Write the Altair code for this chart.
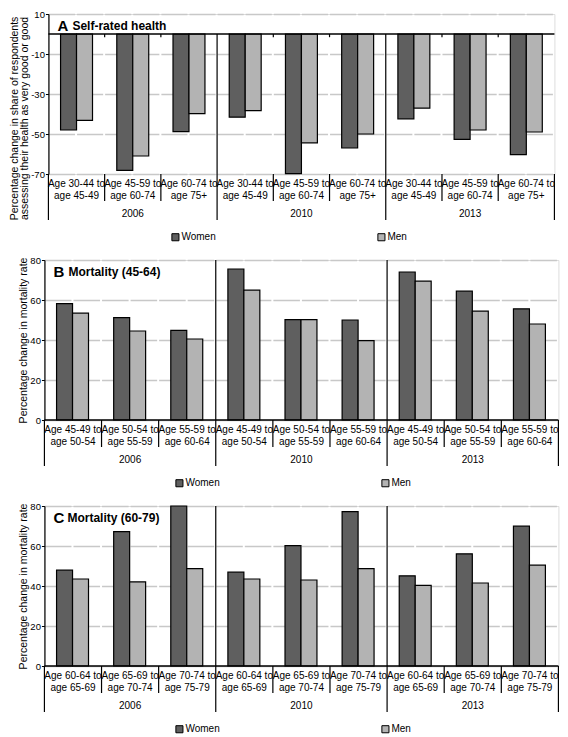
import altair as alt
import pandas as pd

FONT = "Liberation Sans"
YEARS = ["2006", "2010", "2013"]
SEXES = ["Women", "Men"]
COLORS = ["#5f5f5f", "#b3b3b3"]

# Panel A - self-rated health
A_CAT1 = ["Age 30-44 to", "Age 45-59 to", "Age 60-74 to"]
A_CAT2 = ["age 45-49", "age 60-74", "age 75+"]
A_WOMEN = [-48.0, -68.2, -48.8, -41.6, -69.8, -57.0, -42.4, -52.7, -60.3]
A_MEN = [-43.2, -61.0, -39.8, -38.3, -54.4, -50.0, -37.1, -48.0, -49.0]

# Panel B - mortality 45-64
B_CAT1 = ["Age 45-49 to", "Age 50-54 to", "Age 55-59 to"]
B_CAT2 = ["age 50-54", "age 55-59", "age 60-64"]
B_WOMEN = [58.2, 51.2, 44.8, 75.5, 50.2, 50.0, 74.0, 64.4, 55.6]
B_MEN = [53.4, 44.5, 40.5, 64.9, 50.2, 39.7, 69.4, 54.4, 48.0]

# Panel C - mortality 60-79
C_CAT1 = ["Age 60-64 to", "Age 65-69 to", "Age 70-74 to"]
C_CAT2 = ["age 65-69", "age 70-74", "age 75-79"]
C_WOMEN = [47.9, 67.2, 80.0, 46.9, 60.2, 77.2, 45.1, 56.1, 69.9]
C_MEN = [43.5, 42.1, 48.7, 43.5, 43.0, 48.7, 40.3, 41.5, 50.4]


def make_panel(letter, name, cat1, cat2, women, men, ydom, yticks, ytitle,
               top_val, width, height, legend_x, minor_ticks, title_dx, title_y):
    keys = [f"{y}|{i}" for y in YEARS for i in range(3)]
    rows = []
    for j, k in enumerate(keys):
        rows.append(dict(key=k, sex="Women", value=women[j]))
        rows.append(dict(key=k, sex="Men", value=men[j]))
    df = pd.DataFrame(rows)
    lab = pd.DataFrame(dict(key=keys, l1=cat1 * 3, l2=cat2 * 3))
    yr = pd.DataFrame(dict(key=[keys[1], keys[4], keys[7]], year=YEARS))
    grp = pd.DataFrame(dict(key=[keys[3], keys[6]]))
    catsep = pd.DataFrame(dict(key=[keys[j] for j in (1, 2, 4, 5, 7, 8)]))
    left = pd.DataFrame(dict(key=[keys[0]]))
    right = pd.DataFrame(dict(key=[keys[8]]))

    xs = alt.Scale(domain=keys, paddingInner=0, paddingOuter=0)
    half = width / 18.0
    ys = alt.Scale(domain=ydom, nice=False, zero=False)

    axis_kw = dict(values=yticks, tickCount=len(yticks), title=ytitle, grid=True,
                   gridColor="#c8c8c8", gridDash=[half - 2, 2], gridWidth=1.5,
                   domainColor="black", domainWidth=1.2, tickColor="black", tickSize=3,
                   labelFontSize=9.5, labelColor="black", labelPadding=1,
                   labelExpr="datum.value + ''",
                   titleFontSize=10.5, titleFontWeight="normal", titleColor="black",
                   titlePadding=1, titleFont=FONT, labelFont=FONT, titleLineHeight=10.5)
    if title_y is not None:
        axis_kw["titleY"] = title_y

    bars = alt.Chart(df).mark_bar(stroke="black", strokeWidth=1.2).encode(
        x=alt.X("key:N", scale=xs, axis=None),
        xOffset=alt.XOffset("sex:N", scale=alt.Scale(domain=SEXES, paddingInner=0, paddingOuter=0.76)),
        y=alt.Y("value:Q", scale=ys, axis=alt.Axis(**axis_kw)),
        color=alt.Color("sex:N", scale=alt.Scale(domain=SEXES, range=COLORS),
                        legend=alt.Legend(title=None, orient="none", direction="horizontal",
                                          legendX=legend_x, legendY=height + 58,
                                          symbolType="square", symbolSize=50,
                                          symbolStrokeColor="black", symbolStrokeWidth=1,
                                          labelFontSize=10, labelFont=FONT, labelColor="black",
                                          labelOffset=1, columnPadding=159)),
    )

    zero = alt.Chart(pd.DataFrame(dict(v=[0]))).mark_rule(color="black", strokeWidth=1.3).encode(
        y=alt.Y("v:Q", scale=ys))

    gsep = alt.Chart(grp).mark_rule(color="black", strokeWidth=1.2).encode(
        x=alt.X("key:N", scale=xs, bandPosition=0, axis=None),
        y=alt.datum(top_val), y2=alt.value(height + 46))
    lsep = alt.Chart(left).mark_rule(color="black", strokeWidth=1.2).encode(
        x=alt.X("key:N", scale=xs, bandPosition=0, axis=None),
        y=alt.value(height), y2=alt.value(height + 46))
    rsep = alt.Chart(right).mark_rule(color="black", strokeWidth=1.2).encode(
        x=alt.X("key:N", scale=xs, bandPosition=1, axis=None),
        y=alt.value(height), y2=alt.value(height + 46))
    csep = alt.Chart(catsep).mark_rule(color="black", strokeWidth=1.2).encode(
        x=alt.X("key:N", scale=xs, bandPosition=0, axis=None),
        y=alt.value(height), y2=alt.value(height + 27))

    t1 = alt.Chart(lab).mark_text(fontSize=10, font=FONT, color="black").encode(
        x=alt.X("key:N", scale=xs, axis=None), y=alt.value(height + 10), text="l1:N")
    t2 = alt.Chart(lab).mark_text(fontSize=10, font=FONT, color="black").encode(
        x=alt.X("key:N", scale=xs, axis=None), y=alt.value(height + 22), text="l2:N")
    ty = alt.Chart(yr).mark_text(fontSize=10, font=FONT, color="black").encode(
        x=alt.X("key:N", scale=xs, axis=None), y=alt.value(height + 40), text="year:N")

    tl = alt.Chart(pd.DataFrame(dict(t=[letter]))).mark_text(
        fontSize=15, fontWeight="bold", font=FONT, align="left", color="black").encode(
        x=alt.value(9), y=alt.value(12), text="t:N")
    tn = alt.Chart(pd.DataFrame(dict(t=[name]))).mark_text(
        fontSize=12, fontWeight="bold", font=FONT, align="left", color="black").encode(
        x=alt.value(title_dx), y=alt.value(12), text="t:N")

    layers = [bars, zero, gsep, lsep, rsep, csep, t1, t2, ty, tl, tn]
    if minor_ticks:
        mt = alt.Chart(catsep).mark_rule(color="black", strokeWidth=1.2).encode(
            x=alt.X("key:N", scale=xs, bandPosition=0, axis=None),
            y=alt.datum(0), y2=alt.datum(-1.6))
        layers.append(mt)
    return alt.layer(*layers).properties(width=width, height=height)


H = 160
pa = make_panel("A", "Self-rated health", A_CAT1, A_CAT2, A_WOMEN, A_MEN, [-70, 10],
                [10, -10, -30, -50, -70],
                ["Percentage change in share of  respondents",
                 "assessing their health as very good or good"],
                0, 506, H, 122, True, 24, 104)
pb = make_panel("B", "Mortality (45-64)", B_CAT1, B_CAT2, B_WOMEN, B_MEN, [0, 80],
                [0, 20, 40, 60, 80], "Percentage change in mortality rate",
                80, 514, H, 130, False, 24, None)
pc = make_panel("C", "Mortality (60-79)", C_CAT1, C_CAT2, C_WOMEN, C_MEN, [0, 80],
                [0, 20, 40, 60, 80], "Percentage change in mortality rate",
                80, 514, H, 130, False, 23, None)

chart = alt.vconcat(pa, pb, pc, spacing=10, center=True).resolve_scale(
    color="independent", x="independent", y="independent"
).properties(padding={"left": 0, "top": 0, "right": 0, "bottom": 0}).configure_view(
    strokeWidth=0).configure(font=FONT)

chart.save("out.html", embed_options={"renderer": "svg", "actions": False})
